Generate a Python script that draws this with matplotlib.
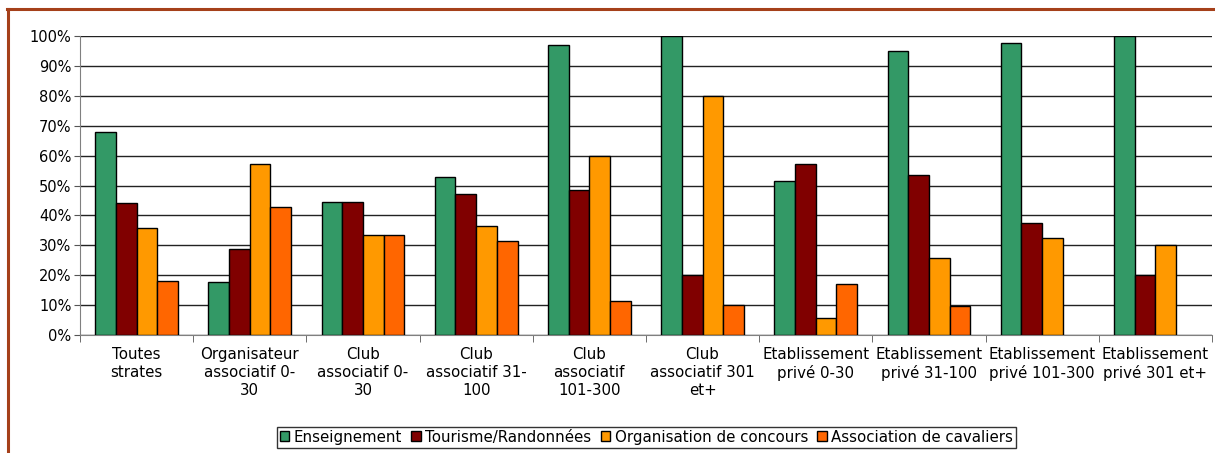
import matplotlib
matplotlib.use("Agg")
import matplotlib.pyplot as plt
import numpy as np
from matplotlib.lines import Line2D

categories = ["Toutes\nstrates", "Organisateur\nassociatif 0-\n30", "Club\nassociatif 0-\n30",
              "Club\nassociatif 31-\n100", "Club\nassociatif\n101-300", "Club\nassociatif 301\net+",
              "Etablissement\nprivé 0-30", "Etablissement\nprivé 31-100", "Etablissement\nprivé 101-300",
              "Etablissement\nprivé 301 et+"]
series_names = ["Enseignement", "Tourisme/Randonnées", "Organisation de concours", "Association de cavaliers"]
enseignement = [68, 17.7, 44.4, 52.8, 97, 100, 51.4, 95.1, 97.6, 100]
tourisme = [44.1, 28.6, 44.4, 47.2, 48.5, 20, 57.1, 53.4, 37.5, 20]
concours = [35.8, 57.1, 33.3, 36.6, 60, 80, 5.7, 25.7, 32.4, 30]
cavaliers = [18, 42.9, 33.3, 31.4, 11.5, 10, 17.1, 9.7, 0, 0]
colors = ["#339966", "#800000", "#FF9900", "#FF6600"]

plt.rcParams['font.family'] = ['DejaVu Sans']
fig = plt.figure(figsize=(12.15, 4.53), dpi=100)
ax = fig.add_axes([0.0658, 0.2605, 0.9317, 0.66])

x = np.arange(len(categories))
w = 0.183
data = [enseignement, tourisme, concours, cavaliers]
for i, (vals, c, name) in enumerate(zip(data, colors, series_names)):
    vals = np.array(vals, dtype=float)
    mask = vals > 0
    ax.bar(x[mask] + (i - 1.5) * w, vals[mask], w, color=c, edgecolor="black", linewidth=1.0,
           label=name, zorder=3)

ax.set_xlim(-0.5, len(categories) - 0.5)
ax.set_ylim(0, 100)
ax.set_yticks(np.arange(0, 101, 10))
ax.set_yticklabels([f"{v}%" for v in range(0, 101, 10)], fontsize=10.5)
ax.yaxis.grid(True, color="#222222", linewidth=1.0, zorder=0)
ax.set_axisbelow(True)

ax.set_xticks(x)
ax.set_xticklabels(categories, fontsize=10.8, linespacing=1.22)
ax.tick_params(axis='x', length=0, pad=9)
ax.set_xticks(np.arange(-0.5, len(categories), 1), minor=True)
ax.tick_params(axis='x', which='minor', length=5, color="#555555")
ax.tick_params(axis='y', length=4, color="#555555", pad=2)
for s in ["top", "right"]:
    ax.spines[s].set_visible(False)
ax.spines["left"].set_color("#808080")
ax.spines["bottom"].set_color("#808080")

leg = fig.legend(loc="center", bbox_to_anchor=(0.532, 0.035), ncol=4, fontsize=10.8,
                 frameon=True, fancybox=False, edgecolor="black", handlelength=0.65,
                 handleheight=0.65, handletextpad=0.3, columnspacing=0.6, borderpad=0.2)
leg.get_frame().set_linewidth(1.0)

fig.add_artist(Line2D([0.006, 1.0], [1 - 8.5/453, 1 - 8.5/453], color="#A5401A", linewidth=2.2, transform=fig.transFigure))
fig.add_artist(Line2D([0.0066, 0.0066], [0, 1 - 8.5/453], color="#A5401A", linewidth=2.2, transform=fig.transFigure))

fig.savefig("out.png", dpi=100)
